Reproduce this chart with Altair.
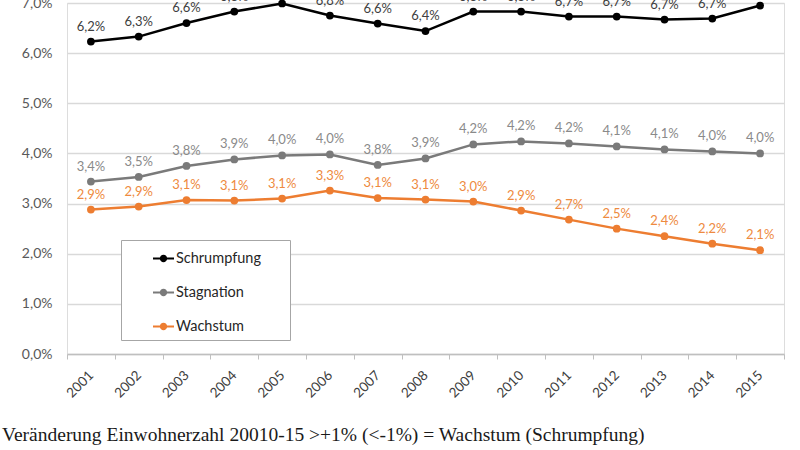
import altair as alt
import pandas as pd

years = [str(y) for y in range(2001, 2016)]
schrumpfung = [6.23, 6.33, 6.60, 6.83, 6.99, 6.75, 6.59, 6.44, 6.83, 6.83, 6.73, 6.73, 6.67, 6.69, 6.95]
stagnation = [3.44, 3.53, 3.75, 3.88, 3.96, 3.98, 3.77, 3.90, 4.18, 4.24, 4.20, 4.14, 4.08, 4.04, 4.00]
wachstum = [2.88, 2.94, 3.07, 3.06, 3.10, 3.26, 3.11, 3.08, 3.04, 2.86, 2.68, 2.50, 2.35, 2.20, 2.07]
y_ticks = [0, 1, 2, 3, 4, 5, 6, 7]
series_names = ["Schrumpfung", "Stagnation", "Wachstum"]
line_colors = ["#000000", "#7a7a7a", "#ED7D31"]
label_colors = ["#404040", "#8a8a8a", "#EE8A40"]
footer = "Veränderung Einwohnerzahl 20010-15 >+1% (<-1%) = Wachstum (Schrumpfung)"

rows = []
for name, vals in zip(series_names, [schrumpfung, stagnation, wachstum]):
    for y, v in zip(years, vals):
        rows.append({"Jahr": y, "Serie": name, "Wert": v,
                     "Label": f"{v:.1f}".replace(".", ",") + "%"})
df = pd.DataFrame(rows)

x = alt.X("Jahr:O", title=None,
          axis=alt.Axis(labelAngle=315, labelAlign="right", labelBaseline="middle",
                        labelFont="Lato", labelFontSize=13.5, labelColor="#404040",
                        labelPadding=14, tickBand="extent", tickSize=5,
                        tickColor="#bfbfbf", domainColor="#bfbfbf", domainWidth=1.5,
                        grid=False))
y = alt.Y("Wert:Q", title=None,
          scale=alt.Scale(domain=[0, 7], nice=False),
          axis=alt.Axis(values=y_ticks, labelExpr="replace(format(datum.value, '.1f'), '.', ',') + '%'",
                        labelFont="Lato", labelFontSize=14, labelColor="#595959",
                        labelPadding=15, ticks=False, domain=False,
                        grid=True, gridColor="#d9d9d9", gridWidth=1.5))

color_lines = alt.Color("Serie:N", scale=alt.Scale(domain=series_names, range=line_colors),
                        legend=None)
legend_path = ("M-1,-0.1H1V0.1H-1Z M0.35,0A0.35,0.35,0,1,1,-0.35,0A0.35,0.35,0,1,1,0.35,0Z")
color_points = alt.Color("Serie:N", scale=alt.Scale(domain=series_names, range=line_colors),
                         legend=alt.Legend(title=None, orient="none", legendX=54, legendY=237,
                                           symbolType=legend_path, symbolSize=441,
                                           symbolOffset=24, padding=7, rowPadding=16,
                                           labelFont="Lato", labelFontSize=14.5, labelColor="#262626",
                                           labelOffset=1,
                                           labelExpr="datum.label + '\u2800\u2800'",
                                           fillColor="#ffffff", strokeColor="#a6a6a6"))

base = alt.Chart(df)
lines = base.mark_line(strokeWidth=2.5, clip=False).encode(x=x, y=y, color=color_lines,
                                                           detail="Serie:N")
points = base.mark_point(filled=True, size=60, opacity=1, clip=False).encode(
    x=x, y=y, color=color_points)
texts = base.mark_text(dy=-15, font="Lato", fontSize=13, clip=False).encode(
    x=x, y=y, text="Label:N",
    color=alt.Color("Serie:N", scale=alt.Scale(domain=series_names, range=label_colors),
                    legend=None))

chart = alt.layer(lines, points, texts).resolve_scale(color="independent").properties(
    width=717, height=351,
    autosize=alt.AutoSizeParams(type="none"),
    padding={"left": 67, "top": 3, "right": 16, "bottom": 96},
    title=alt.TitleParams(footer, orient="bottom", anchor="start", frame="group",
                          font="Liberation Serif", fontSize=19.5, fontWeight="normal",
                          color="#1a1a1a", dx=-65, offset=26)
).configure_view(stroke=None).configure(background="#ffffff")

chart.save("out.html", embed_options={"renderer": "svg", "actions": False})
